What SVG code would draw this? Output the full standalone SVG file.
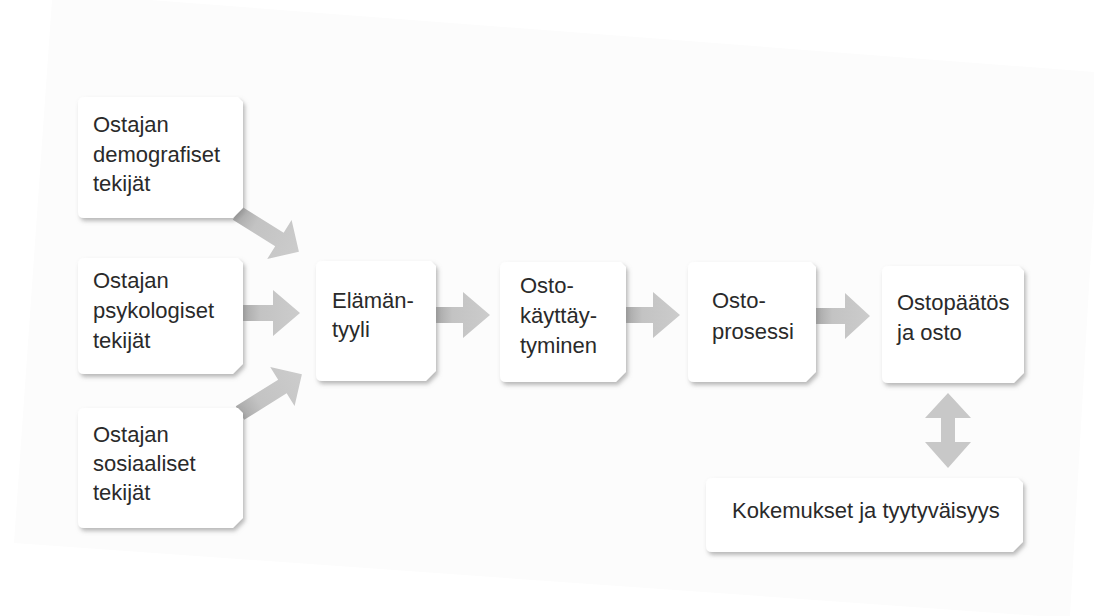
<svg xmlns="http://www.w3.org/2000/svg" width="1094" height="616" viewBox="0 0 1094 616">
  <defs>
    <filter id="sh" x="-10%" y="-10%" width="125%" height="130%">
      <feGaussianBlur in="SourceAlpha" stdDeviation="2"/>
      <feOffset dx="2" dy="3" result="b"/>
      <feFlood flood-color="#8a8a8a" flood-opacity="0.6"/>
      <feComposite in2="b" operator="in"/>
      <feMerge><feMergeNode/><feMergeNode in="SourceGraphic"/></feMerge>
    </filter>
    <linearGradient id="ag" x1="0" y1="0" x2="1" y2="0">
      <stop offset="0" stop-color="#a8a8a8"/>
      <stop offset="0.3" stop-color="#c3c3c3"/>
      <stop offset="1" stop-color="#cccccc"/>
    </linearGradient>
  </defs>
  <style>
    .box { fill: #ffffff; filter: url(#sh); }
    .t { font-family: "Liberation Sans", Arial, sans-serif; font-size: 22px; fill: #2a2a2a; }
    .arr { fill: url(#ag); }
    .arr2 { fill: #c8c8c8; }
  </style>
  <rect width="1094" height="616" fill="#ffffff"/>
  <polygon points="52,0 150,0 1094,72 1094,200 1070,616 1040,616 14,543" fill="#fcfcfc"/>

  <g id="connectors">
    <path class="arr" d="M0,-8 H50 V-23 L73,0 L50,23 V8 H0 Z" transform="translate(237,213) rotate(32)"/>
    <path class="arr" d="M243,305 H273 V290 L300,313 L273,336 V321 H243 Z"/>
    <path class="arr" d="M0,-8 H50 V-23 L73,0 L50,23 V8 H0 Z" transform="translate(240,413) rotate(-32)"/>
    <path class="arr" d="M436,307 H463 V292 L490,315 L463,338 V323 H436 Z"/>
    <path class="arr" d="M626,307 H653 V292 L680,315 L653,338 V323 H626 Z"/>
    <path class="arr" d="M816,308 H845 V293 L870,316 L845,339 V324 H816 Z"/>
    <path class="arr2" d="M941,418 H925 L948,393 L971,418 H955 V442 H971 L948,468 L925,442 H941 Z"/>
  </g>

  <g id="demografiset">
    <path class="box" d="M84,97 H238 L243,102 V208 L233,218 H84 Q78,218 78,212 V103 Q78,97 84,97 Z"/>
    <text class="t" x="93" y="132">Ostajan</text>
    <text class="t" x="93" y="162">demografiset</text>
    <text class="t" x="93" y="191">tekijät</text>
  </g>
  <g id="psykologiset">
    <path class="box" d="M84,258 H238 L243,263 V364 L233,374 H84 Q78,374 78,368 V264 Q78,258 84,258 Z"/>
    <text class="t" x="93" y="288">Ostajan</text>
    <text class="t" x="93" y="318">psykologiset</text>
    <text class="t" x="93" y="348">tekijät</text>
  </g>
  <g id="sosiaaliset">
    <path class="box" d="M84,408 H238 L243,413 V518 L233,528 H84 Q78,528 78,522 V414 Q78,408 84,408 Z"/>
    <text class="t" x="93" y="442">Ostajan</text>
    <text class="t" x="93" y="471">sosiaaliset</text>
    <text class="t" x="93" y="500">tekijät</text>
  </g>
  <g id="elamantyyli">
    <path class="box" d="M322,261 H431 L436,266 V371 L426,381 H322 Q316,381 316,375 V267 Q316,261 322,261 Z"/>
    <text class="t" x="332" y="308">Elämän-</text>
    <text class="t" x="332" y="337">tyyli</text>
  </g>
  <g id="ostokayttaytyminen">
    <path class="box" d="M506,262 H621 L626,267 V372 L616,382 H506 Q500,382 500,376 V268 Q500,262 506,262 Z"/>
    <text class="t" x="520" y="293">Osto-</text>
    <text class="t" x="520" y="323">käyttäy-</text>
    <text class="t" x="520" y="353">tyminen</text>
  </g>
  <g id="ostoprosessi">
    <path class="box" d="M694,262 H811 L816,267 V372 L806,382 H694 Q688,382 688,376 V268 Q688,262 694,262 Z"/>
    <text class="t" x="712" y="308">Osto-</text>
    <text class="t" x="712" y="339">prosessi</text>
  </g>
  <g id="ostopaatos">
    <path class="box" d="M888,266 H1019 L1024,271 V373 L1014,383 H888 Q882,383 882,377 V272 Q882,266 888,266 Z"/>
    <text class="t" x="897" y="310">Ostopäätös</text>
    <text class="t" x="897" y="340">ja osto</text>
  </g>
  <g id="kokemukset">
    <path class="box" d="M712,478 H1018 L1023,483 V542 L1013,552 H712 Q706,552 706,546 V484 Q706,478 712,478 Z"/>
    <text class="t" x="732" y="518">Kokemukset ja tyytyväisyys</text>
  </g>
</svg>
